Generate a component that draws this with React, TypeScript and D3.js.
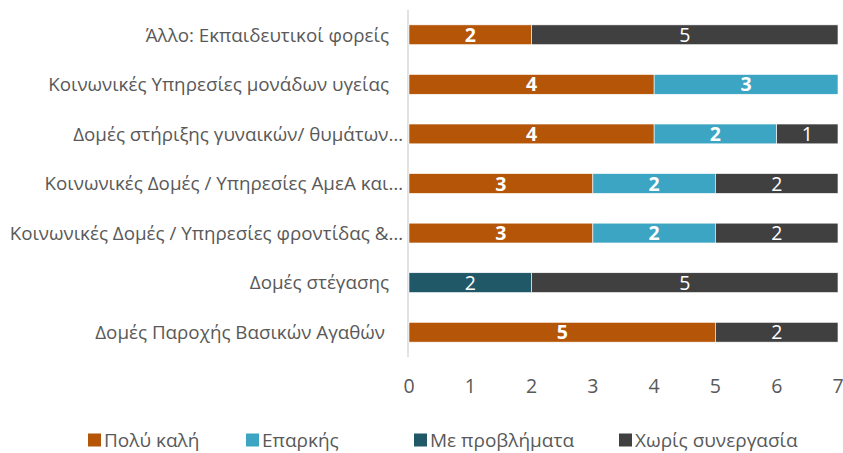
import React from 'react';
import * as d3 from 'd3';

const categories = [
  'Άλλο: Εκπαιδευτικοί φορείς',
  'Κοινωνικές Υπηρεσίες μονάδων υγείας',
  'Δομές στήριξης γυναικών/ θυμάτων…',
  'Κοινωνικές Δομές / Υπηρεσίες ΑμεΑ και…',
  'Κοινωνικές Δομές / Υπηρεσίες φροντίδας &…',
  'Δομές στέγασης',
  'Δομές Παροχής Βασικών Αγαθών',
];
const seriesNames = ['Πολύ καλή', 'Επαρκής', 'Με προβλήματα', 'Χωρίς συνεργασία'];
const veryGood = [2, 4, 4, 3, 3, 0, 5];
const adequate = [0, 3, 2, 2, 2, 0, 0];
const withProblems = [0, 0, 0, 0, 0, 2, 0];
const noCooperation = [5, 0, 1, 2, 2, 5, 2];
const ticks = [0, 1, 2, 3, 4, 5, 6, 7];

const colors = ['#B45507', '#3CA5C3', '#215868', '#404040'];
const boldLabel = [true, true, false, false];
const font = '"Open Sans", sans-serif';

export default function App() {
  const width = 843;
  const height = 453;
  const x = d3.scaleLinear().domain([0, 7]).range([409, 838]);
  const y = d3.scaleBand().domain(categories).range([10, 357]).paddingInner(0.6).paddingOuter(0.3);

  const rows = categories.map((c, i) => ({
    cat: c,
    vals: [veryGood[i], adequate[i], withProblems[i], noCooperation[i]],
  }));
  const stack = d3.stack<any>().keys(['0', '1', '2', '3']).value((d, k) => d.vals[+k]);
  const layers = stack(rows);

  const legendX = [88, 246, 414, 619];

  return (
    <svg width={width} height={height} style={{ position: 'absolute', left: 0, top: 0, background: '#fff' }}>
      <line x1={x(0) - 1} x2={x(0) - 1} y1={10} y2={357} stroke="#D9D9D9" strokeWidth={1.5} />
      {layers.map((layer, si) => (
        <g key={si}>
          {layer.map((d, ci) => {
            const v = d[1] - d[0];
            if (v <= 0) return null;
            const yy = y(categories[ci])!;
            return (
              <g key={ci}>
                <rect x={x(d[0])} y={yy} width={x(d[1]) - x(d[0])} height={y.bandwidth()}
                  fill={colors[si]} stroke="#fff" strokeWidth={0.6} />
                <text x={(x(d[0]) + x(d[1])) / 2} y={yy + y.bandwidth() / 2} dy="0.36em"
                  textAnchor="middle" fill="#fff" fontFamily={font} fontSize={19.5}
                  fontWeight={boldLabel[si] ? 700 : 400}>{v}</text>
              </g>
            );
          })}
        </g>
      ))}
      {categories.map((c, i) => (
        <text key={c} x={c.endsWith('…') ? 403 : (i === categories.length - 1 ? 385 : 389)}
          y={y(c)! + y.bandwidth() / 2} dy="0.36em"
          textAnchor="end" fill="#595959" fontFamily={font} fontSize={18.8}>{c}</text>
      ))}
      {ticks.map(t => (
        <text key={t} x={x(t)} y={386} dy="0.36em" textAnchor="middle" fill="#595959"
          fontFamily={font} fontSize={19.5}>{t}</text>
      ))}
      {seriesNames.map((s, i) => (
        <g key={s} transform={`translate(${legendX[i]},440)`}>
          <rect x={0} y={-6.5} width={13} height={13} fill={colors[i]} />
          <text x={16} y={0} dy="0.36em" fill="#595959" fontFamily={font} fontSize={19}>{s}</text>
        </g>
      ))}
    </svg>
  );
}
